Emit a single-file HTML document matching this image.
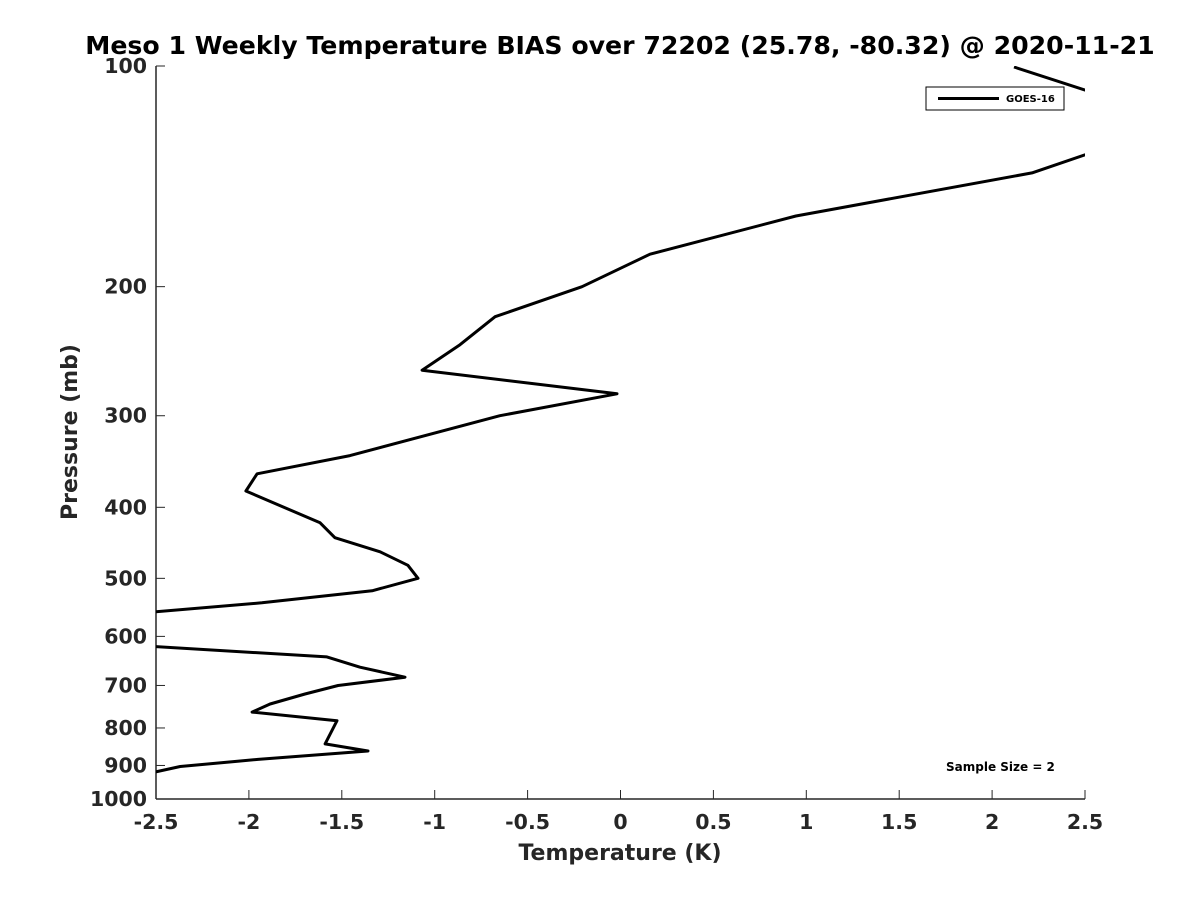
<!DOCTYPE html>
<html><head><meta charset="utf-8"><style>
body{margin:0;background:#fff;}
svg{display:block;font-family:"Liberation Sans","DejaVu Sans",sans-serif;}
</style></head><body>
<svg id="chart" width="1200" height="900" viewBox="0 0 1200 900">
<rect width="1200" height="900" fill="#fff"/>
<defs><clipPath id="plotclip"><rect x="156" y="66" width="929" height="733"/></clipPath></defs>
<text x="620" y="54" text-anchor="middle" font-size="25.2" font-weight="bold" font-family="DejaVu Sans, sans-serif">Meso 1 Weekly Temperature BIAS over 72202 (25.78, -80.32) @ 2020-11-21</text>
<g id="axes"></g>
<g id="series" clip-path="url(#plotclip)"></g>
<text x="620" y="860" text-anchor="middle" font-size="22" font-weight="bold" fill="#262626" font-family="DejaVu Sans, sans-serif">Temperature (K)</text>
<text transform="translate(77,432) rotate(-90)" text-anchor="middle" font-size="22" font-weight="bold" fill="#262626" font-family="DejaVu Sans, sans-serif">Pressure (mb)</text>
<g>
<rect x="926" y="87" width="138" height="23" fill="#fff" stroke="#000" stroke-width="1"/>
<line x1="938" y1="98.5" x2="999" y2="98.5" stroke="#000" stroke-width="3"/>
<text x="1006" y="102" font-size="10" font-weight="bold" font-family="DejaVu Sans, sans-serif">GOES-16</text>
</g>
<text x="946" y="771" font-size="12" font-weight="bold" font-family="DejaVu Sans, sans-serif">Sample Size = 2</text>
</svg>
<script>
const xTicks=[-2.5,-2,-1.5,-1,-0.5,0,0.5,1,1.5,2,2.5];
const xTickLabels=["-2.5","-2","-1.5","-1","-0.5","0","0.5","1","1.5","2","2.5"];
const yTicks=[100,200,300,400,500,600,700,800,900,1000];
const yTickLabels=["100","200","300","400","500","600","700","800","900","1000"];
const topTemps=[2.118,2.7];
const topPress=[100.3,112];
const biasTemps=[2.7,2.215,0.944,0.159,-0.207,-0.675,-0.864,-1.068,-0.019,-0.649,-1.456,-1.956,-2.016,-1.617,-1.537,-1.294,-1.144,-1.09,-1.337,-1.93,-3.0,-3.0,-1.58,-1.402,-1.16,-1.52,-1.698,-1.886,-1.983,-1.526,-1.59,-1.359,-1.951,-2.37,-2.6];
const biasPress=[127,139.9,160.2,180.6,200,219.8,240,260,280,300,340,360,380,420,440,460,480,500,520,540,569,609,640,661,682,700,719,742,761,782,841,860,883,903,930];
const X0=156,X1=1085,Y0=66,Y1=799;
function xs(t){return X0+(t+2.5)/5*(X1-X0);}
function ys(p){return Y0+Math.log10(p/100)*(Y1-Y0);}
const NS="http://www.w3.org/2000/svg";
const axes=document.getElementById('axes');
function mk(tag,attrs,parent){const e=document.createElementNS(NS,tag);for(const k in attrs)e.setAttribute(k,attrs[k]);parent.appendChild(e);return e;}
const yl=mk('line',{x1:X0,y1:Y0,x2:X0,y2:Y1,stroke:'#262626','stroke-width':1.5},axes);


const xl=mk('line',{x1:X0,y1:Y1,x2:X1,y2:Y1,stroke:'#262626','stroke-width':1.5},axes);


xTicks.forEach((t,i)=>{
  const x=xs(t);
  mk('line',{x1:x,y1:Y1,x2:x,y2:Y1-9,stroke:'#262626','stroke-width':1},axes);
  const tx=mk('text',{x:x,y:Y1+30,'text-anchor':'middle','font-size':20.5,'font-weight':'bold',fill:'#262626','font-family':'DejaVu Sans, sans-serif'},axes);
  tx.textContent=xTickLabels[i];
  
  
});
yTicks.forEach((p,i)=>{
  const y=ys(p);
  mk('line',{x1:X0,y1:y,x2:X0+9,y2:y,stroke:'#262626','stroke-width':1},axes);
  const tx=mk('text',{x:X0-9,y:y+7,'text-anchor':'end','font-size':20.5,'font-weight':'bold',fill:'#262626','font-family':'DejaVu Sans, sans-serif'},axes);
  tx.textContent=yTickLabels[i];
  
  
});
const series=document.getElementById('series');
function line(ts,ps,name){
  const d=ts.map((t,i)=>(i?'L':'M')+xs(t).toFixed(1)+','+ys(ps[i]).toFixed(1)).join(' ');
  const p=mk('path',{d:d,fill:'none',stroke:'#000','stroke-width':3,'stroke-linejoin':'round'},series);
  
  
}
line(topTemps,topPress,'goes-16-bias-line-top');
line(biasTemps,biasPress,'goes-16-bias-line');
</script>
</body></html>
